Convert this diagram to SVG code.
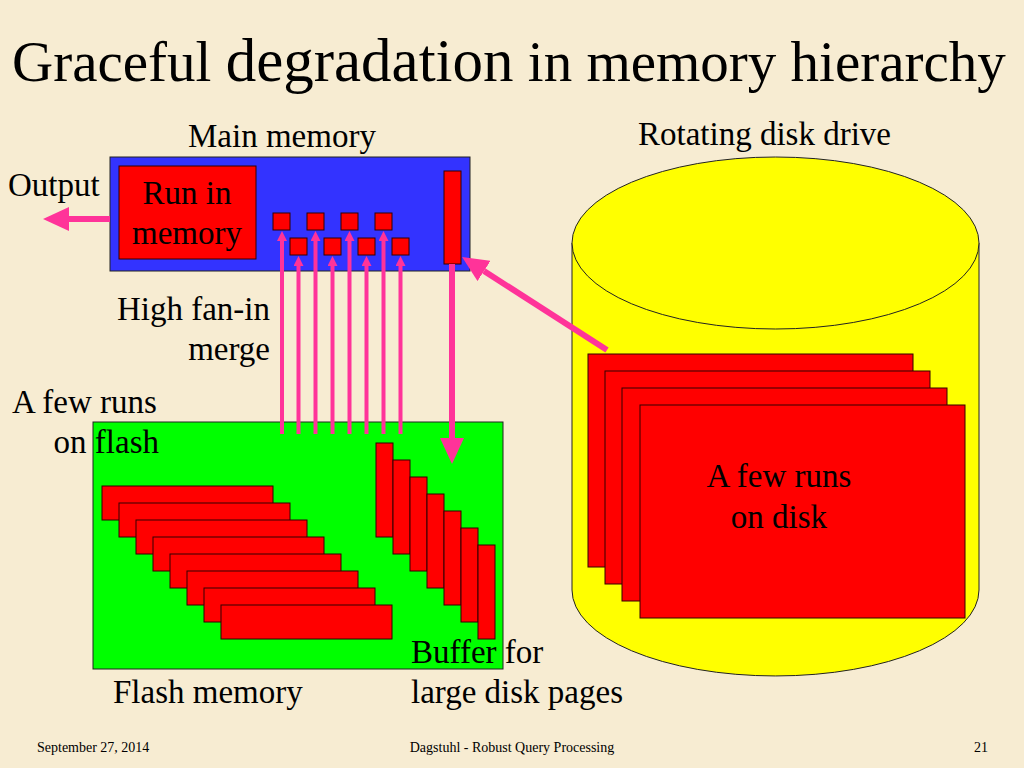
<svg xmlns="http://www.w3.org/2000/svg" width="1024" height="768" viewBox="0 0 1024 768">
<style>
  .t{font-family:"Liberation Serif","Times New Roman",serif;fill:#000;}
  .body{font-size:33px;}
  .foot{font-size:14px;}
  .box{stroke:#222;stroke-width:1;}
  .red{fill:#ff0000;stroke:#330000;stroke-width:1;}
  .thin{stroke:#ff3399;stroke-width:4;fill:none;}
  .thick{stroke:#ff3399;stroke-width:6;fill:none;}
</style>
<defs>
  <marker id="hs" markerUnits="userSpaceOnUse" markerWidth="10" markerHeight="10" viewBox="0 0 10 10" refX="0" refY="5" orient="auto">
    <path d="M0,0 L10,5 L0,10 z" fill="#ff3399"/>
  </marker>
  <marker id="hb" markerUnits="userSpaceOnUse" markerWidth="26" markerHeight="24" viewBox="0 0 26 24" refX="0" refY="12" orient="auto">
    <path d="M0,0 L26,12 L0,24 z" fill="#ff3399"/>
  </marker>
</defs>
<rect width="1024" height="768" fill="#f7ecd2"/>

<text class="t" x="12" y="81" font-size="57">Graceful <tspan font-size="61">degradation</tspan> in memory hierarchy</text>

<g id="main-memory">
  <rect class="box" x="110" y="157" width="360" height="114" fill="#3333ff"/>
  <text class="t body" x="188" y="147">Main memory</text>
</g>
<g id="run-in-memory">
  <rect class="red" x="119" y="166" width="137" height="93"/>
  <text class="t body" x="187" y="204" text-anchor="middle">Run in</text>
  <text class="t body" x="187" y="244" text-anchor="middle">memory</text>
</g>
<g id="merge-buffers">
  <rect class="red" x="273" y="213" width="17" height="17"/>
  <rect class="red" x="307" y="213" width="17" height="17"/>
  <rect class="red" x="341" y="213" width="17" height="17"/>
  <rect class="red" x="375" y="213" width="17" height="17"/>
  <rect class="red" x="290" y="238" width="17" height="17"/>
  <rect class="red" x="324" y="238" width="17" height="17"/>
  <rect class="red" x="358" y="238" width="17" height="17"/>
  <rect class="red" x="392" y="238" width="17" height="17"/>
</g>
<g id="disk-page-buffer">
  <rect class="red" x="444" y="171" width="17" height="93"/>
</g>

<g id="flash-memory">
  <rect class="box" x="93" y="422" width="410" height="247" fill="#00ff00"/>
  <rect class="red" x="102" y="486" width="171" height="34"/>
  <rect class="red" x="119" y="503" width="171" height="34"/>
  <rect class="red" x="136" y="520" width="171" height="34"/>
  <rect class="red" x="153" y="537" width="171" height="34"/>
  <rect class="red" x="170" y="554" width="171" height="34"/>
  <rect class="red" x="187" y="571" width="171" height="34"/>
  <rect class="red" x="204" y="588" width="171" height="34"/>
  <rect class="red" x="221" y="605" width="171" height="34"/>
  <rect class="red" x="376" y="443" width="17" height="94"/>
  <rect class="red" x="393" y="460" width="17" height="94"/>
  <rect class="red" x="410" y="477" width="17" height="94"/>
  <rect class="red" x="427" y="494" width="17" height="94"/>
  <rect class="red" x="444" y="511" width="17" height="94"/>
  <rect class="red" x="461" y="528" width="17" height="94"/>
  <rect class="red" x="478" y="545" width="17" height="94"/>
  <text class="t body" x="113" y="703">Flash memory</text>
</g>

<g id="disk">
  <path class="box" d="M572,243 L572,590 A203.5,86 0 0 0 979,590 L979,243 Z" fill="#ffff00"/>
  <ellipse class="box" cx="775.5" cy="243" rx="203.5" ry="86" fill="#ffff00"/>
  <rect class="red" x="588" y="354" width="325" height="213"/>
  <rect class="red" x="605" y="371" width="325" height="213"/>
  <rect class="red" x="622" y="388" width="325" height="213"/>
  <rect class="red" x="640" y="405" width="325" height="213"/>
  <text class="t body" x="779" y="487" text-anchor="middle">A few runs</text>
  <text class="t body" x="779" y="528" text-anchor="middle">on disk</text>
  <text class="t body" x="638" y="145">Rotating disk drive</text>
</g>

<g id="connectors">
  <line class="thin" x1="282" y1="434" x2="282" y2="241" marker-end="url(#hs)"/>
  <line class="thin" x1="298.5" y1="434" x2="298.5" y2="266" marker-end="url(#hs)"/>
  <line class="thin" x1="315.5" y1="434" x2="315.5" y2="241" marker-end="url(#hs)"/>
  <line class="thin" x1="332.5" y1="434" x2="332.5" y2="266" marker-end="url(#hs)"/>
  <line class="thin" x1="349.5" y1="434" x2="349.5" y2="241" marker-end="url(#hs)"/>
  <line class="thin" x1="366.5" y1="434" x2="366.5" y2="266" marker-end="url(#hs)"/>
  <line class="thin" x1="383.5" y1="434" x2="383.5" y2="241" marker-end="url(#hs)"/>
  <line class="thin" x1="400.5" y1="434" x2="400.5" y2="266" marker-end="url(#hs)"/>
  <line class="thick" x1="452" y1="264" x2="452" y2="438" marker-end="url(#hb)"/>
  <line class="thick" x1="110" y1="219" x2="69" y2="219" marker-end="url(#hb)"/>
  <line class="thick" x1="607" y1="350" x2="484" y2="271" marker-end="url(#hb)"/>
</g>

<g id="labels">
  <text class="t body" x="8" y="196">Output</text>
  <text class="t body" x="270" y="320" text-anchor="end">High fan-in</text>
  <text class="t body" x="270" y="360" text-anchor="end">merge</text>
  <text class="t body" x="12" y="413">A few runs</text>
  <text class="t body" x="159" y="453" text-anchor="end">on flash</text>
  <text class="t body" x="411" y="663">Buffer for</text>
  <text class="t body" x="411" y="703">large disk pages</text>
</g>

<g id="footer">
  <text class="t foot" x="37" y="752">September 27, 2014</text>
  <text class="t foot" x="512" y="752" text-anchor="middle">Dagstuhl - Robust Query Processing</text>
  <text class="t foot" x="988" y="752" text-anchor="end">21</text>
</g>
</svg>
